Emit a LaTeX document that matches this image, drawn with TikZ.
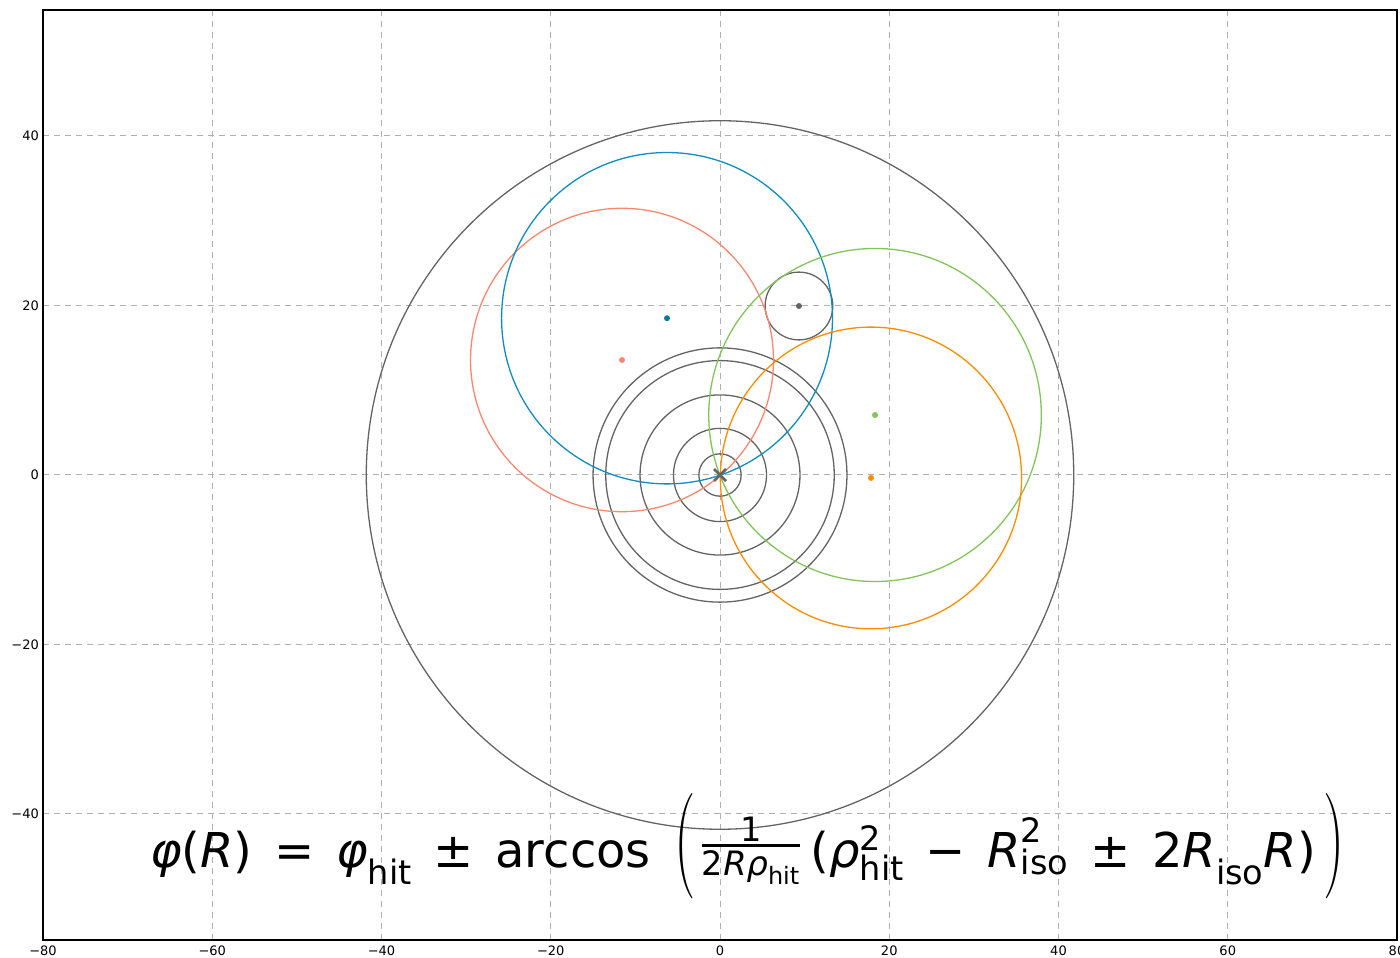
\documentclass[tikz,border=0pt]{standalone}
\usepackage{amsmath}
\usepackage{fontspec}
\setmainfont{DejaVu Sans}
\newfontfamily\lmfont{Latin Modern Roman}
\definecolor{cgray}{RGB}{100,100,100}
\definecolor{cgrid}{RGB}{176,176,176}
\definecolor{cblue}{RGB}{16,140,190}
\definecolor{csalmon}{RGB}{250,135,110}
\definecolor{cgreen}{RGB}{130,195,90}
\definecolor{corange}{RGB}{255,140,0}
\newcommand\fmi[1]{\text{\itshape #1}}
\newcommand\fmt[1]{\text{#1}}
\newcommand\fsp{\hspace{0.45em}}
\newcommand\fbigparen[1]{\text{\raisebox{-5pt}{\lmfont\scalebox{1.25}[2.2]{#1}}}}
\tikzset{
  gridline/.style={cgrid, line width=1pt, dash pattern=on 6pt off 5pt},
  ring/.style={line width=1.3pt},
  ticklab/.style={inner sep=0pt, font=\fontsize{13}{15}\selectfont},
}
\begin{document}
\begin{tikzpicture}[x=1pt,y=1pt]
\useasboundingbox (0,0) rectangle (1400,958);
\begin{scope}[shift={(720,483)},x=8.4625pt,y=8.475pt]
  % grid
  \foreach \gx in {-60,-40,-20,0,20,40,60}
    \draw[gridline] (\gx,-54.87) -- (\gx,54.87);
  \foreach \gy in {-40,-20,0,20,40}
    \draw[gridline] (-80,\gy) -- (80,\gy);
  % centres
  \coordinate (O) at (0,0);
  \coordinate (I) at (9.33,19.94);
  \coordinate (B) at (-6.26,18.5);
  \coordinate (S) at (-11.58,13.57);
  \coordinate (G) at (18.32,7.08);
  \coordinate (Q) at (17.84,-0.35);
  % gray circles
  \foreach \r in {2.5,5.5,9.45,13.5,15.0,41.8}
    \draw[ring,cgray] (O) circle[radius=\r];
  \draw[ring,cgray] (I) circle[radius=4];
  \draw[ring,csalmon] (S) circle[radius=17.9];
  \draw[ring,cblue] (B) circle[radius=19.55];
  \draw[ring,cgreen] (G) circle[radius=19.65];
  \draw[ring,corange] (Q) circle[radius=17.8];
  % dots
  \fill[cgray] (I) circle[radius=3pt];
  \fill[cblue!85!black] (B) circle[radius=3pt];
  \fill[csalmon] (S) circle[radius=3pt];
  \fill[cgreen] (G) circle[radius=3pt];
  \fill[corange] (Q) circle[radius=3pt];
  % cross
  \draw[cgray, line width=2.6pt] ([shift={(-6pt,-6pt)}]O) -- ([shift={(6pt,6pt)}]O);
  \draw[cgray, line width=2.6pt] ([shift={(-6pt,6pt)}]O) -- ([shift={(6pt,-6pt)}]O);
  % frame
  \draw[black, line width=1.2pt] (-80,-54.87) rectangle (80,54.87);
  % tick labels
  \foreach \v/\t in {-80/−80,-60/−60,-40/−40,-20/−20,0/0,20/20,40/40,60/60,80/80}
    \node[ticklab, anchor=north] (xl\v) at ([yshift=-6pt]\v,-54.87) {\t};
  \foreach \v/\t in {-40/−40,-20/−20,0/0,20/20,40/40}
    \node[ticklab, anchor=east] (yl\v) at ([xshift=-4pt]-80,\v) {\t};
\end{scope}
\node[inner sep=0pt, anchor=base west, font=\fontsize{48}{58}\selectfont] (formula) at (150,90)
 {$\fmi{φ}\fmt{(}\fmi{R}\fmt{)}\fsp\fmt{=}\fsp\fmi{φ}_{\fmt{hit}}\fsp\fmt{±}\fsp\fmt{arccos}\hspace{0.5em}\fbigparen{(}\hspace{0.1em}\raisebox{16pt}{$\genfrac{}{}{3pt}{1}{\fmt{1}}{\fmt{2}\fmi{Rρ}_{\fmt{hit}}}$}\hspace{0.2em}\fmt{(}\fmi{ρ}^{\fmt{2}}_{\fmt{hit}}\fsp\fmt{−}\fsp\fmi{R}^{\fmt{2}}_{\fmt{iso}}\fsp\fmt{±}\fsp\fmt{2}\fmi{R}_{\fmt{iso}}\fmi{R}\fmt{)}\hspace{0.15em}\fbigparen{)}$};
\end{tikzpicture}
\end{document}
